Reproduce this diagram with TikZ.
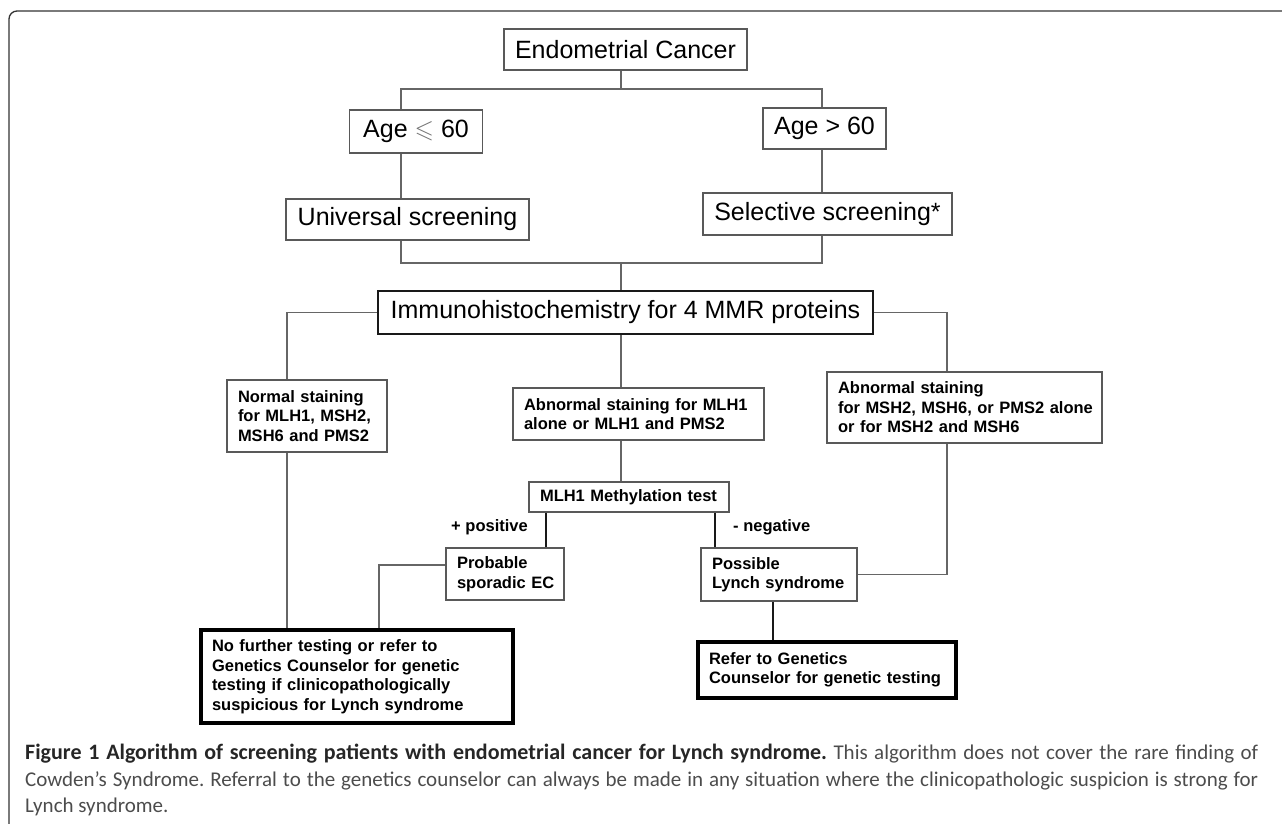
\documentclass[tikz,border=0pt]{standalone}
\usepackage{fontspec}
\setmainfont{Liberation Sans}
\newfontfamily\capfont{Carlito}
\usepackage{amssymb}
\usepackage{tikz}
\usetikzlibrary{positioning}
\frenchspacing

\begin{document}
\begin{tikzpicture}
    [
        x=1pt, y=-1pt,
        rectanglenode_plain/.style={rectangle, draw=black!65, line width=1.3pt, inner sep=0pt, font=\fontsize{25}{30}\selectfont},
        rectanglenode_ihc/.style={rectanglenode_plain, draw=black!90, line width=2.4pt},
        rectanglenode_small/.style={rectangle, draw=black!65, line width=1.3pt, align=left, inner xsep=11pt, inner ysep=0pt, font=\bfseries\fontsize{16.5}{19.5}\selectfont},
        rectanglenode_final/.style={rectanglenode_small, draw=black, line width=3.2pt},
        connector/.style={draw=black!60, line width=1.3pt},
        connector_bold/.style={draw=black!90, line width=2.2pt},
        labeltext/.style={inner sep=0pt, font=\bfseries\fontsize{16.5}{19.5}\selectfont},
        captiontext/.style={inner sep=0pt, anchor=base west, font=\capfont\fontsize{21}{27}\selectfont},
    ]

    \useasboundingbox (0,0) rectangle (1282,823);
    \clip (0,0) rectangle (1282,823);

    % frame round the figure
    \draw[draw=black!80, line width=1.3pt, rounded corners=8pt] (9,11) rectangle (1320,850);

    % upper part
    \node[rectanglenode_plain, minimum width=243pt, minimum height=41pt] (cancer) at (625.5,49.5) {Endometrial Cancer};
    \node[rectanglenode_plain, minimum width=133pt, minimum height=43pt] (age_young) at (416,131.5) {Age {\color{black!55}$\leqslant$} 60};
    \node[rectanglenode_plain, minimum width=123pt, minimum height=41pt] (age_old) at (824.5,128.5) {Age > 60};
    \node[rectanglenode_plain, minimum width=243pt, minimum height=41pt] (screen_universal) at (407.5,219.5) {Universal screening};
    \node[rectanglenode_plain, minimum width=249pt, minimum height=42pt] (screen_selective) at (827.5,214) {Selective screening*};
    \node[rectanglenode_ihc, minimum width=495pt, minimum height=43pt] (ihc) at (625.5,312.5) {Immunohistochemistry for 4 MMR proteins};

    % staining results
    \node[rectanglenode_small, text width=138pt, minimum height=72pt] (stain_normal) at (307,416) {Normal staining\\for MLH1, MSH2,\\MSH6 and PMS2};
    \node[rectanglenode_small, text width=229pt, minimum height=52pt] (stain_mlh1) at (638.5,414) {\mbox{Abnormal staining for MLH1}\\alone or MLH1 and PMS2};
    \node[rectanglenode_small, text width=253pt, minimum height=71pt] (stain_msh) at (964.5,407.5) {Abnormal staining\\\mbox{for MSH2, MSH6, or PMS2 alone}\\or for MSH2 and MSH6};

    % methylation
    \node[rectanglenode_small, text width=178pt, minimum height=30pt] (methyl) at (629,497) {\mbox{MLH1 Methylation test}};
    \node[rectanglenode_small, text width=96pt, minimum height=52pt] (sporadic) at (505,574) {Probable\\\mbox{sporadic EC}};
    \node[rectanglenode_small, text width=134pt, minimum height=53pt] (lynch_possible) at (779,574.5) {Possible\\\mbox{Lynch syndrome}};
    \node[labeltext, anchor=east] (label_positive) at (528,527) {+ positive};
    \node[labeltext, anchor=west] (label_negative) at (733,527) {- negative};

    % outcomes
    \node[rectanglenode_final, text width=290pt, minimum height=93pt] (no_further) at (357,676.5) {\mbox{No further testing or refer to}\\Genetics Counselor for genetic\\testing if clinicopathologically\\suspicious for Lynch syndrome};
    \node[rectanglenode_final, text width=236pt, minimum height=56pt] (refer) at (827,670) {Refer to Genetics\\\mbox{Counselor for genetic testing}};

    % columns of the connectors
    \coordinate (split_left) at (401,89);
    \coordinate (split_right) at (822,89);
    \coordinate (join_left) at (401,263);
    \coordinate (join_right) at (822,263);
    \coordinate (col_mid) at (621,0);
    \coordinate (col_normal) at (287,0);
    \coordinate (col_msh) at (947,0);
    \coordinate (col_pos) at (546,0);
    \coordinate (col_neg) at (715,0);
    \coordinate (col_lynch) at (773,0);
    \coordinate (knee_sporadic) at (379,565);

    \draw[connector] (cancer.south -| col_mid) -- (split_left -| col_mid);
    \draw[connector] (age_young.north -| split_left) -- (split_left) -- (split_right) -- (age_old.north -| split_right);
    \draw[connector] (age_young.south -| split_left) -- (screen_universal.north -| split_left);
    \draw[connector] (age_old.south -| split_right) -- (screen_selective.north -| split_right);
    \draw[connector] (screen_universal.south -| join_left) -- (join_left) -- (join_right) -- (screen_selective.south -| join_right);
    \draw[connector] (join_left -| col_mid) -- (ihc.north -| col_mid);

    \draw[connector] (ihc.west) -| (stain_normal.north -| col_normal);
    \draw[connector] (ihc.east) -| (stain_msh.north -| col_msh);
    \draw[connector] (ihc.south -| col_mid) -- (stain_mlh1.north -| col_mid);
    \draw[connector] (stain_mlh1.south -| col_mid) -- (methyl.north -| col_mid);

    \draw[connector_bold] (methyl.south -| col_pos) -- (sporadic.north -| col_pos);
    \draw[connector_bold] (methyl.south -| col_neg) -- (lynch_possible.north -| col_neg);

    \draw[connector] (stain_normal.south -| col_normal) -- (no_further.north -| col_normal);
    \draw[connector] (sporadic.west |- knee_sporadic) -- (knee_sporadic) -- (no_further.north -| knee_sporadic);
    \draw[connector] (stain_msh.south -| col_msh) |- (lynch_possible.east);
    \draw[connector_bold] (lynch_possible.south -| col_lynch) -- (refer.north -| col_lynch);

    % caption
    \node[captiontext] (caption_one) at (25,759) {\makebox[1233pt][s]{{\color{black!85}\bfseries\fontsize{22}{27}\selectfont Figure 1 Algorithm of screening patients with endometrial cancer for Lynch syndrome.} {\color{black!70}This algorithm does not cover the rare finding of}}};
    \node[captiontext, text=black!70] (caption_two) at (25,786) {\makebox[1233pt][s]{Cowden’s Syndrome. Referral to the genetics counselor can always be made in any situation where the clinicopathologic suspicion is strong for}};
    \node[captiontext, text=black!70] (caption_three) at (25,812) {Lynch syndrome.};

\end{tikzpicture}
\end{document}
